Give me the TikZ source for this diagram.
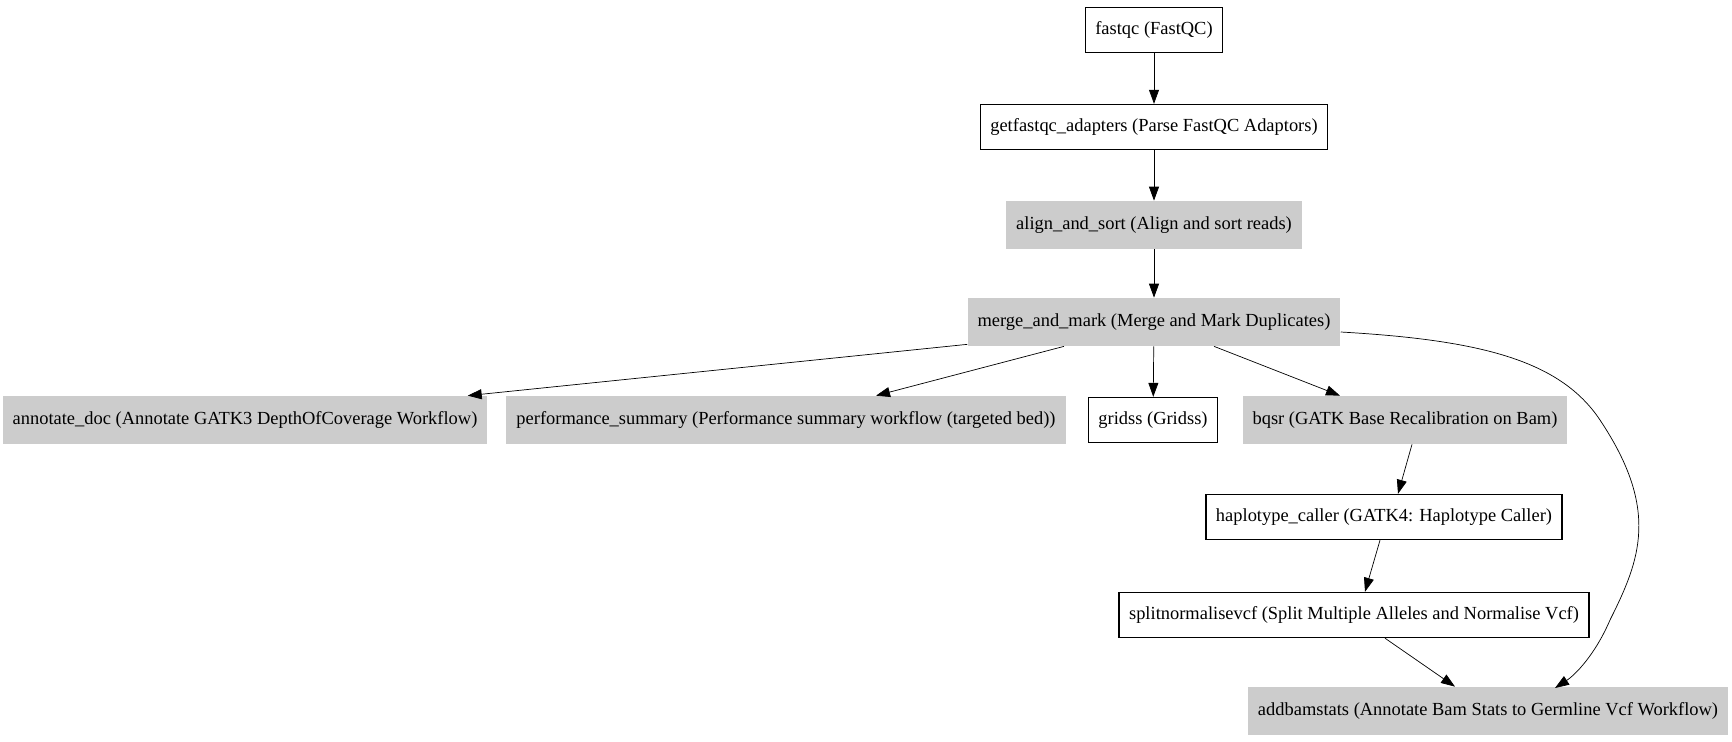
\documentclass[tikz,border=0pt]{standalone}
\usepackage{fontspec}
\setmainfont{Liberation Serif}
\usetikzlibrary{arrows.meta,calc}
\tikzset{
  task/.style={draw,thick,minimum height=0.9cm,inner xsep=0.2cm,font=\fontsize{10.5}{12}\selectfont},
  sub/.style={fill=black!20,minimum height=0.96cm,inner xsep=0.2cm,font=\fontsize{10.5}{12}\selectfont},
  flow/.style={-{Triangle[length=0.28cm,width=0.2cm]}}
}
\begin{document}
\begin{tikzpicture}[x=0.02cm,y=-0.02cm]
\useasboundingbox (0,0) rectangle (1732,741);
%%%%%%%%%%%%%%%%
\node[task] (fastqc) at (1154,30) {fastqc (FastQC)};
\node[task] (getfastqc) at (1154,127) {getfastqc\_adapters (Parse FastQC Adaptors)};
\node[sub] (align) at (1154,225) {align\_and\_sort (Align and sort reads)};
\node[sub] (merge) at (1154,322) {merge\_and\_mark (Merge and Mark Duplicates)};
%%%%%%%%%%%%%%%%
\node[sub] (annotate) at (245,420) {annotate\_doc (Annotate GATK3 DepthOfCoverage Workflow)};
\node[sub] (perf) at (786,420) {performance\_summary (Performance summary workflow (targeted bed))};
\node[task] (gridss) at (1153,420) {gridss (Gridss)};
\node[sub] (bqsr) at (1405,420) {bqsr (GATK Base Recalibration on Bam)};
%%%%%%%%%%%%%%%%
\node[task] (haplo) at (1384,517) {haplotype\_caller (GATK4: Haplotype Caller)};
\node[task] (split) at (1354,615) {splitnormalisevcf (Split Multiple Alleles and Normalise Vcf)};
\node[sub] (addbam) at (1488,711) {addbamstats (Annotate Bam Stats to Germline Vcf Workflow)};
%%%%%%%%%%%%%%%%
\draw[flow] (fastqc) -- (getfastqc);
\draw[flow] (getfastqc) -- (align);
\draw[flow] (align) -- (merge);
\draw[flow] ($(merge.south west)+(0,-2)$) -- ($(annotate.north east)+(-20,0)$);
\draw[flow] ($(merge.south)+(-90,0)$) -- ($(perf.north)+(90,0)$);
\draw[flow] (merge) -- (gridss);
\draw[flow] ($(merge.south)+(60,0)$) -- ($(bqsr.north)+(-65,0)$);
\draw[flow] ($(bqsr.south)+(7,0)$) -- ($(haplo.north)+(14,0)$);
\draw[flow] ($(haplo.south)+(-4,0)$) -- ($(split.north)+(11,0)$);
\draw[flow] ($(split.south)+(31,0)$) -- ($(addbam.north)+(-33,0)$);
\draw[flow] ($(merge.east)+(0,10)$) .. controls (1480,340) and (1560,360) .. (1600,420)
  .. controls (1660,510) and (1640,560) .. (1610,620)
  .. controls (1595,655) and (1575,675) .. (1555,688);
\end{tikzpicture}
\end{document}
